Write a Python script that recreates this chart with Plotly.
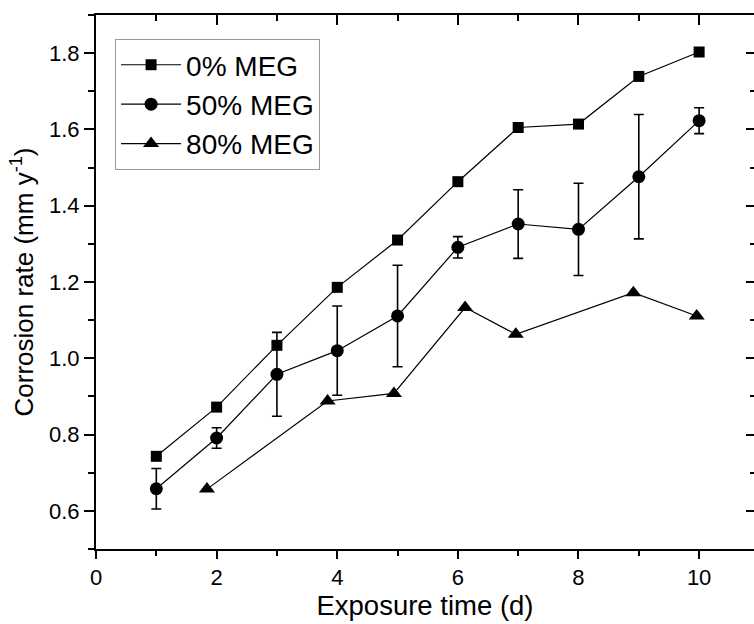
import plotly.graph_objects as go

# Exposure time (days) and corrosion rates (mm/y)
days = [1, 2, 3, 4, 5, 6, 7, 8, 9, 10]
rate_meg0 = [0.743, 0.872, 1.034, 1.186, 1.310, 1.463, 1.605, 1.614, 1.739, 1.803]
rate_meg50 = [0.658, 0.791, 0.958, 1.020, 1.111, 1.291, 1.352, 1.338, 1.476, 1.623]
err_meg50 = [0.053, 0.027, 0.110, 0.117, 0.133, 0.028, 0.090, 0.121, 0.163, 0.034]
days_meg80 = [1.84, 3.84, 4.94, 6.12, 6.96, 8.91, 9.96]
rate_meg80 = [0.657, 0.888, 0.908, 1.133, 1.063, 1.172, 1.111]

x_ticks = [0, 2, 4, 6, 8, 10]
y_ticks = [0.6, 0.8, 1.0, 1.2, 1.4, 1.6, 1.8]

FONT = "Liberation Sans, Arial, sans-serif"
BLACK = "#000000"

fig = go.Figure()

fig.add_trace(go.Scatter(
    x=days, y=rate_meg0, name="0% MEG", mode="lines+markers",
    line=dict(color=BLACK, width=1.2),
    marker=dict(symbol="square", size=11, color=BLACK),
))
fig.add_trace(go.Scatter(
    x=days, y=rate_meg50, name="50% MEG", mode="lines+markers",
    line=dict(color=BLACK, width=1.2),
    marker=dict(symbol="circle", size=13, color=BLACK),
    error_y=dict(type="data", array=err_meg50, visible=True,
                 color=BLACK, thickness=1.6, width=5),
))
fig.add_trace(go.Scatter(
    x=days_meg80, y=rate_meg80, name="80% MEG", mode="lines+markers",
    line=dict(color=BLACK, width=1.2),
    marker=dict(symbol="triangle-up", size=14, color=BLACK),
))
# companion trace so the top/right tick axes get drawn
fig.add_trace(go.Scatter(
    x=days, y=rate_meg0, xaxis="x2", yaxis="y2", mode="markers",
    marker=dict(opacity=0), showlegend=False, hoverinfo="skip",
))

XR = [0, 10.91]
YR = [0.5, 1.9]

fig.update_layout(
    width=754, height=624,
    margin=dict(l=96, r=0, t=15, b=75),
    paper_bgcolor="white", plot_bgcolor="white",
    font=dict(family=FONT, color=BLACK, size=22),
    showlegend=True,
    legend=dict(
        x=0.029, y=0.955, xanchor="left", yanchor="top",
        bgcolor="white", bordercolor="#999999", borderwidth=1,
        font=dict(family=FONT, size=28, color=BLACK),
        itemwidth=60, tracegroupgap=0,
    ),
    xaxis=dict(
        range=XR, showline=True, linecolor=BLACK, linewidth=2,
        ticks="outside", ticklen=8, tickwidth=2, tickcolor=BLACK,
        tickvals=x_ticks, ticktext=[str(v) for v in x_ticks],
        minor=dict(dtick=1, tick0=0, ticks="outside", ticklen=5,
                   tickwidth=2, tickcolor=BLACK, showgrid=False),
        showgrid=False, zeroline=False,
        tickfont=dict(size=22),
        title=dict(text="Exposure time (d)", font=dict(size=27.5), standoff=2),
    ),
    yaxis=dict(
        range=YR, showline=True, linecolor=BLACK, linewidth=2,
        ticks="outside", ticklen=10, tickwidth=2, tickcolor=BLACK,
        tickvals=y_ticks, ticktext=[f"{v:.1f}" for v in y_ticks],
        minor=dict(dtick=0.1, tick0=0.5, ticks="outside", ticklen=6,
                   tickwidth=2, tickcolor=BLACK, showgrid=False),
        showgrid=False, zeroline=False,
        tickfont=dict(size=22),
        title=dict(text="Corrosion rate (mm y<sup>-1</sup>)",
                   font=dict(size=26), standoff=8),
    ),
    xaxis2=dict(
        overlaying="x", side="top", matches="x", anchor="y2", range=XR,
        showline=True, linecolor=BLACK, linewidth=2,
        ticks="inside", ticklen=10, tickwidth=2, tickcolor=BLACK,
        tickvals=x_ticks, showticklabels=False,
        minor=dict(dtick=1, tick0=0, ticks="inside", ticklen=6,
                   tickwidth=2, tickcolor=BLACK, showgrid=False),
        showgrid=False, zeroline=False,
    ),
    yaxis2=dict(
        overlaying="y", side="right", matches="y", anchor="x2", range=YR,
        showline=False,
        ticks="inside", ticklen=8, tickwidth=2, tickcolor=BLACK,
        tickvals=y_ticks, showticklabels=False,
        minor=dict(dtick=0.1, tick0=0.5, ticks="inside", ticklen=4,
                   tickwidth=2, tickcolor=BLACK, showgrid=False),
        showgrid=False, zeroline=False,
    ),
)

fig.write_html("out.html")
